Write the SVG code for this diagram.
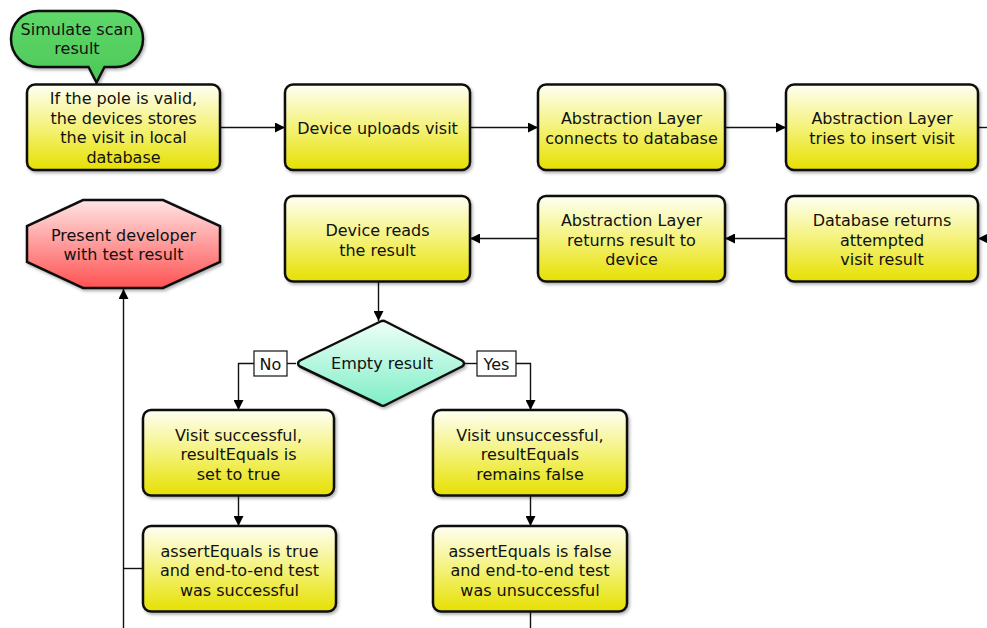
<svg xmlns="http://www.w3.org/2000/svg" width="987" height="628" viewBox="0 0 987 628">
  <defs>
    <linearGradient id="gYellow" x1="0" y1="0" x2="0" y2="1">
      <stop offset="0" stop-color="#fffff4"/>
      <stop offset="0.5" stop-color="#f4f27a"/>
      <stop offset="1" stop-color="#e6e000"/>
    </linearGradient>
    <linearGradient id="gRed" x1="0" y1="0" x2="0" y2="1">
      <stop offset="0" stop-color="#ffe4e4"/>
      <stop offset="1" stop-color="#ff5252"/>
    </linearGradient>
    <linearGradient id="gMint" x1="0" y1="0" x2="0" y2="1">
      <stop offset="0" stop-color="#effff8"/>
      <stop offset="1" stop-color="#7eeec6"/>
    </linearGradient>
    <linearGradient id="gGreen" x1="0" y1="0" x2="0" y2="1">
      <stop offset="0" stop-color="#5fd86a"/>
      <stop offset="1" stop-color="#4cc857"/>
    </linearGradient>
    <filter id="shadow" x="-10%" y="-10%" width="125%" height="130%">
      <feDropShadow dx="1.5" dy="2" stdDeviation="1.5" flood-color="#000" flood-opacity="0.3"/>
    </filter>
    <marker id="arrow" viewBox="0 0 10 10" refX="10" refY="5" markerWidth="10" markerHeight="10" markerUnits="userSpaceOnUse" orient="auto">
      <path d="M0,0 L10,5 L0,10 Z" fill="#000"/>
    </marker>
  </defs>
  <style>
    .box { fill: url(#gYellow); stroke: #111; stroke-width: 2.5; filter: url(#shadow); }
    .term { fill: url(#gRed); stroke: #111; stroke-width: 2.5; filter: url(#shadow); }
    .dec { fill: url(#gMint); stroke: #111; stroke-width: 2.5; stroke-linejoin: round; filter: url(#shadow); }
    .note { fill: url(#gGreen); stroke: #111; stroke-width: 2.5; filter: url(#shadow); }
    .lbl { fill: #fff; stroke: #111; stroke-width: 1.2; }
    text { font-family: "DejaVu Sans", "Liberation Sans", sans-serif; font-size: 16px; fill: #111; text-anchor: middle; }
    .edge { fill: none; stroke: #111; stroke-width: 1.4; }
  </style>

  <!-- connectors -->
  <g id="connectors">
    <path class="edge" d="M220,127.5 H285" marker-end="url(#arrow)"/>
    <path class="edge" d="M470,127.5 H538" marker-end="url(#arrow)"/>
    <path class="edge" d="M725,127.5 H786" marker-end="url(#arrow)"/>
    <path class="edge" d="M978,127.5 H987"/>
    <path class="edge" d="M987,238.5 H978" marker-end="url(#arrow)"/>
    <path class="edge" d="M786,238.5 H725" marker-end="url(#arrow)"/>
    <path class="edge" d="M538,238.5 H470" marker-end="url(#arrow)"/>
    <path class="edge" d="M378.5,281 V321" marker-end="url(#arrow)"/>
    <path class="edge" d="M296,363.5 H287"/>
    <path class="edge" d="M254,363.5 H238.5 V410" marker-end="url(#arrow)"/>
    <path class="edge" d="M465,363.5 H477"/>
    <path class="edge" d="M516,363.5 H530.5 V410" marker-end="url(#arrow)"/>
    <path class="edge" d="M238.5,495 V526" marker-end="url(#arrow)"/>
    <path class="edge" d="M530.5,495 V526" marker-end="url(#arrow)"/>
    <path class="edge" d="M143,568.5 H123.5"/>
    <path class="edge" d="M123.5,628 V289" marker-end="url(#arrow)"/>
    <path class="edge" d="M530.5,611 V628"/>
    <rect class="lbl" x="254" y="351" width="33" height="25"/>
    <text x="270.5" y="369.5">No</text>
    <rect class="lbl" x="477" y="351" width="39" height="25"/>
    <text x="496.5" y="369.5">Yes</text>
  </g>

  <g id="simulate">
    <path class="note" d="M38,11 H116 A27,28 0 0 1 116,67 H104.5 L96.5,82.5 L88.5,67 H38 A27,28 0 0 1 38,11 Z"/>
    <text x="77" y="35">Simulate scan</text>
    <text x="77" y="54">result</text>
  </g>

  <g id="store-local">
    <rect class="box" x="27" y="84.5" width="193" height="85.5" rx="8"/>
    <text x="123.5" y="104">If the pole is valid,</text>
    <text x="123.5" y="123.5">the devices stores</text>
    <text x="123.5" y="143">the visit in local</text>
    <text x="123.5" y="162.5">database</text>
  </g>

  <g id="upload">
    <rect class="box" x="285" y="84.5" width="185" height="85.5" rx="8"/>
    <text x="377.5" y="134">Device uploads visit</text>
  </g>

  <g id="connect-db">
    <rect class="box" x="538" y="84.5" width="187" height="85.5" rx="8"/>
    <text x="631.5" y="124">Abstraction Layer</text>
    <text x="631.5" y="144">connects to database</text>
  </g>

  <g id="insert-visit">
    <rect class="box" x="786" y="84.5" width="192" height="85.5" rx="8"/>
    <text x="882" y="124">Abstraction Layer</text>
    <text x="882" y="144">tries to insert visit</text>
  </g>

  <g id="db-returns">
    <rect class="box" x="786" y="196" width="192" height="85.5" rx="8"/>
    <text x="882" y="226">Database returns</text>
    <text x="882" y="245.5">attempted</text>
    <text x="882" y="265">visit result</text>
  </g>

  <g id="layer-returns">
    <rect class="box" x="538" y="196" width="187" height="85.5" rx="8"/>
    <text x="631.5" y="226">Abstraction Layer</text>
    <text x="631.5" y="245.5">returns result to</text>
    <text x="631.5" y="265">device</text>
  </g>

  <g id="device-reads">
    <rect class="box" x="285" y="196" width="185" height="85.5" rx="8"/>
    <text x="377.5" y="236">Device reads</text>
    <text x="377.5" y="255.5">the result</text>
  </g>

  <g id="present">
    <polygon class="term" points="83,200 163,200 220,226 220,262 163,288 83,288 27,262 27,226"/>
    <text x="123.5" y="240.5">Present developer</text>
    <text x="123.5" y="260">with test result</text>
  </g>

  <g id="empty-result">
    <path class="dec" d="M380.5,321.5 Q383,320 385.5,321.5 L462,360.5 Q466,363.5 462,366.5 L385.5,405 Q383,406.5 380.5,405 L300,366.5 Q296,363.5 300,360.5 Z"/>
    <text x="382" y="369">Empty result</text>
  </g>

  <g id="visit-ok">
    <rect class="box" x="143" y="410" width="191" height="85.5" rx="8"/>
    <text x="238.5" y="440.5">Visit successful,</text>
    <text x="238.5" y="460">resultEquals is</text>
    <text x="238.5" y="479.5">set to true</text>
  </g>

  <g id="visit-fail">
    <rect class="box" x="433" y="410" width="194" height="85.5" rx="8"/>
    <text x="530" y="440.5">Visit unsuccessful,</text>
    <text x="530" y="460">resultEquals</text>
    <text x="530" y="479.5">remains false</text>
  </g>

  <g id="assert-true">
    <rect class="box" x="143" y="526" width="193" height="85.5" rx="8"/>
    <text x="239.5" y="556.5">assertEquals is true</text>
    <text x="239.5" y="576">and end-to-end test</text>
    <text x="239.5" y="595.5">was successful</text>
  </g>

  <g id="assert-false">
    <rect class="box" x="433" y="526" width="194" height="85.5" rx="8"/>
    <text x="530" y="556.5">assertEquals is false</text>
    <text x="530" y="576">and end-to-end test</text>
    <text x="530" y="595.5">was unsuccessful</text>
  </g>
</svg>
